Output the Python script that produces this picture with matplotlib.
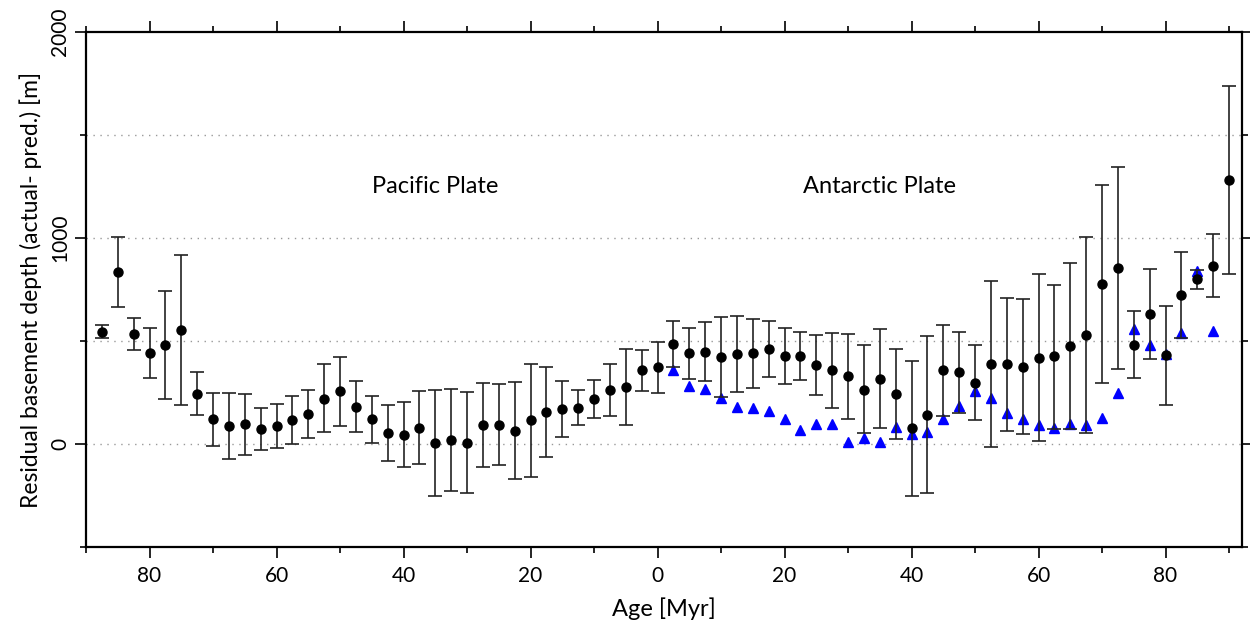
import matplotlib
matplotlib.use('Agg')
import matplotlib.pyplot as plt
from matplotlib.ticker import MultipleLocator, FuncFormatter
import numpy as np

plt.rcParams['font.family'] = ['Lato', 'DejaVu Sans']

# Pacific plate (ages in Myr, plotted to the left of 0)
pac_age = [87.5, 85, 82.5, 80, 77.5, 75, 72.5, 70, 67.5, 65, 62.5, 60, 57.5, 55, 52.5, 50,
           47.5, 45, 42.5, 40, 37.5, 35, 32.5, 30, 27.5, 25, 22.5, 20, 17.5, 15, 12.5, 10,
           7.5, 5, 2.5, 0]
pac_val = [543, 835, 535, 440, 482, 555, 245, 120, 86, 95, 74, 86, 117, 147, 220, 256,
           182, 120, 52, 45, 79, 5, 21, 5, 94, 94, 65, 117, 154, 170, 175, 217,
           261, 276, 357, 373]
pac_hi = [577, 1006, 613, 563, 743, 917, 349, 246, 246, 243, 177, 195, 232, 261, 386, 423,
          307, 232, 188, 203, 258, 263, 269, 251, 298, 289, 303, 389, 376, 308, 261, 313,
          386, 459, 457, 493]
pac_lo = [513, 665, 456, 319, 220, 190, 139, -10, -75, -51, -28, -21, 0, 31, 58, 89,
          57, 6, -83, -110, -97, -252, -227, -237, -112, -101, -172, -158, -65, 34, 92, 125,
          134, 94, 256, 250]

# Antarctic plate (ages in Myr, plotted to the right of 0)
ant_age = [2.5, 5, 7.5, 10, 12.5, 15, 17.5, 20, 22.5, 25, 27.5, 30, 32.5, 35, 37.5, 40,
           42.5, 45, 47.5, 50, 52.5, 55, 57.5, 60, 62.5, 65, 67.5, 70, 72.5, 75, 77.5, 80,
           82.5, 85, 87.5, 90]
ant_val = [487, 441, 449, 420, 436, 440, 461, 425, 428, 383, 358, 328, 264, 316, 241, 76,
           143, 358, 349, 298, 386, 386, 375, 417, 426, 475, 529, 777, 855, 483, 631, 431,
           722, 800, 865, 1282]
ant_hi = [595, 565, 592, 615, 621, 608, 599, 563, 545, 529, 540, 535, 480, 558, 459, 401,
          524, 579, 543, 479, 792, 709, 703, 823, 772, 879, 1006, 1256, 1347, 646, 849, 670,
          931, 847, 1019, 1740]
ant_lo = [375, 315, 307, 227, 253, 271, 323, 289, 313, 240, 177, 120, 52, 76, 24, -252,
          -239, 136, 151, 118, -16, 65, 49, 13, 74, 73, 54, 298, 365, 319, 415, 188,
          516, 751, 714, 824]

# predicted (blue triangles), Antarctic side
tri_age = [2.5, 5, 7.5, 10, 12.5, 15, 17.5, 20, 22.5, 25, 27.5, 30, 32.5, 35, 37.5, 40,
           42.5, 45, 47.5, 50, 52.5, 55, 57.5, 60, 62.5, 65, 67.5, 70, 72.5, 75, 77.5, 80,
           82.5, 85, 87.5]
tri_val = [360, 280, 268, 222, 180, 175, 161, 122, 70, 99, 97, 11, 27, 10, 84, 49,
           57, 123, 185, 259, 223, 149, 120, 91, 79, 97, 91, 125, 250, 556, 483, 438,
           537, 839, 548]

x_pac = -np.array(pac_age)
x_ant = np.array(ant_age)
x_all = np.concatenate([x_pac, x_ant])
v_all = np.concatenate([pac_val, ant_val])
hi_all = np.concatenate([pac_hi, ant_hi])
lo_all = np.concatenate([pac_lo, ant_lo])

fig = plt.figure(figsize=(12.5, 6.29), dpi=100)
ax = fig.add_axes([0.0688, 0.1304, 0.9246, 0.8186])

for y in [0, 500, 1000, 1500]:
    ax.axhline(y, color='#999999', lw=1, ls=(0, (1, 4)), zorder=0)

ax.plot(tri_age, tri_val, ls='none', marker='^', ms=7.5, color='#0000ff',
        mec='#0000ff', zorder=2)
ax.errorbar(x_all, v_all, yerr=[v_all - lo_all, hi_all - v_all], fmt='o', ms=6.5,
            color='black', ecolor='#222222', elinewidth=1.2, capsize=5, capthick=1.2,
            zorder=3)

ax.text(-35, 1250, 'Pacific Plate', ha='center', va='center', fontsize=17)
ax.text(35, 1250, 'Antarctic Plate', ha='center', va='center', fontsize=17)

ax.set_xlim(-90, 92)
ax.set_ylim(-500, 2000)
ax.xaxis.set_major_locator(MultipleLocator(20))
ax.xaxis.set_minor_locator(MultipleLocator(10))
ax.xaxis.set_major_formatter(FuncFormatter(lambda v, p: '%d' % abs(v)))
ax.yaxis.set_major_locator(MultipleLocator(1000))
ax.yaxis.set_minor_locator(MultipleLocator(500))

ax.tick_params(which='both', direction='out', top=True, right=True, width=1.2)
ax.tick_params(which='major', length=8, labelsize=15)
ax.tick_params(which='minor', length=4)
ax.tick_params(axis='x', pad=6)
for lab in ax.get_yticklabels():
    lab.set_rotation(90)
    lab.set_va('center')
for s in ax.spines.values():
    s.set_linewidth(1.6)

ax.set_xlabel('Age [Myr]', fontsize=17, labelpad=8)
ax.set_ylabel('Residual basement depth (actual- pred.) [m]', fontsize=16.5, labelpad=6)

fig.savefig('out.png', dpi=100)
